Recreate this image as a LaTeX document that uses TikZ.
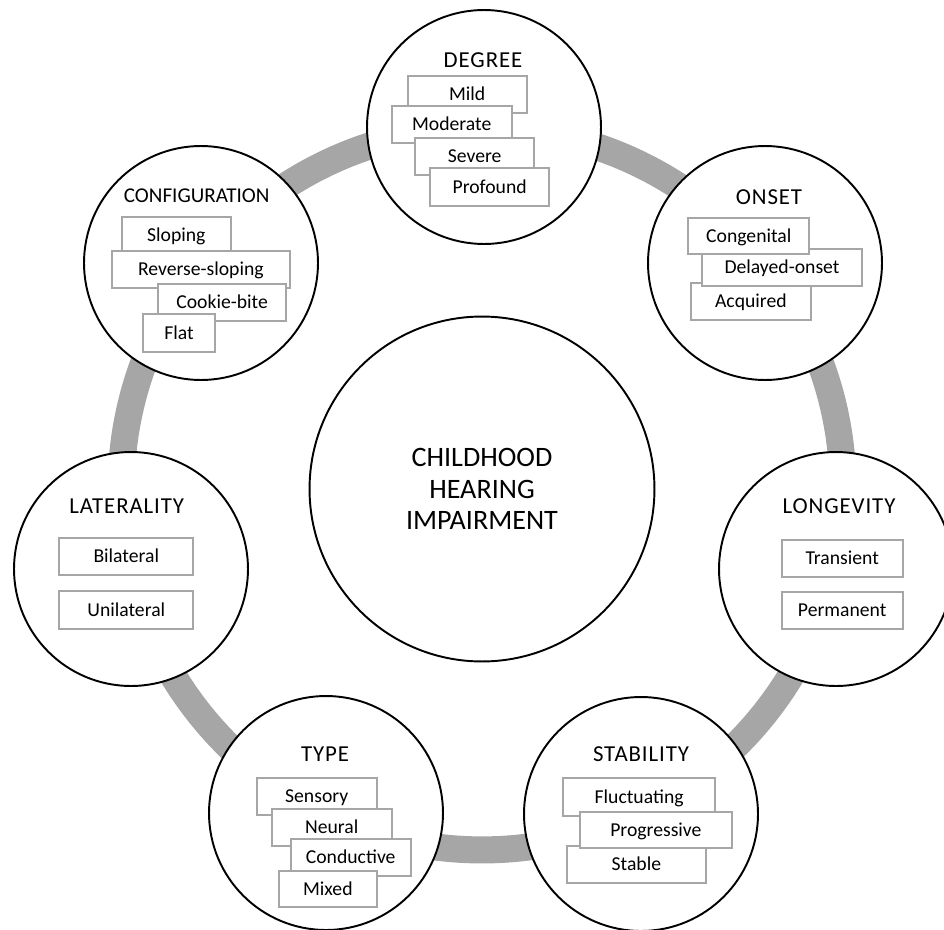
\documentclass[tikz,border=0pt]{standalone}
\usepackage{fontspec}
\setmainfont{Carlito}
\usepackage{tikz}
\usetikzlibrary{positioning}
\definecolor{ringgray}{HTML}{A6A6A6}
\definecolor{boxgray}{HTML}{A6A6A6}

\begin{document}
\begin{tikzpicture}[x=0.02cm, y=-0.02cm,
  facet/.style={circle, draw=black, line width=1.1pt, fill=white, minimum size=4.68cm, inner sep=0pt},
  hub/.style={circle, draw=black, line width=1.1pt, fill=white, minimum size=6.9cm, inner sep=0pt,
    align=center, font=\fontsize{16}{18}\selectfont},
  ring/.style={draw=ringgray, line width=15.4pt},
  title/.style={font=\fontsize{13}{15}\selectfont\addfontfeature{LetterSpace=4}, inner sep=0pt,
    text height=8.2pt, text depth=0pt},
  smalltitle/.style={title, font=\fontsize{12}{14}\selectfont, text height=7.6pt},
  item/.style={draw=boxgray, line width=1.1pt, fill=white},
  itemtext/.style={font=\fontsize{11.2}{13}\selectfont, inner sep=0pt, text height=7.1pt, text depth=0pt}]
  \useasboundingbox (0,0) rectangle (944,930);
  \clip (0,0) rectangle (944,930);

  % Hub and ring
  \node[hub] (hub) at (482,489) {CHILDHOOD\\HEARING\\IMPAIRMENT};
  \draw[ring] (hub.center) circle[radius=7.22cm];

  % Facet circles
  \node[facet] (degree) at (484,127) {};
  \node[facet] (onset) at (765,263) {};
  \node[facet] (longevity) at (836,569) {};
  \node[facet] (stability) at (641,814) {};
  \node[facet] (type) at (326,813) {};
  \node[facet] (laterality) at (131,569) {};
  \node[facet] (configuration) at (201,263) {};

  % Degree
  \node[title] (degreetitle) at (483,60) {DEGREE};
  \draw[item] (407.7,76) rectangle (526.7,112.7) node[midway, itemtext] (mild) {Mild};
  \draw[item] (391.7,106) rectangle (511.7,142.7) node[midway, itemtext] (moderate) {Moderate};
  \draw[item] (415,138.3) rectangle (534.3,175) node[midway, itemtext] (severe) {Severe};
  \draw[item] (430,168.3) rectangle (549.3,205.7) node[midway, itemtext] (profound) {Profound};

  % Onset
  \node[title] (onsettitle) at (769,197) {ONSET};
  \draw[item] (691,282.7) rectangle (810.7,320) node[midway, itemtext] (acquired) {Acquired};
  \draw[item] (701.7,249) rectangle (862.3,286) node[midway, itemtext] (delayed) {Delayed-onset};
  \draw[item] (688.3,217.7) rectangle (809.3,254.3) node[midway, itemtext] (congenital) {Congenital};

  % Longevity
  \node[title] (longevitytitle) at (839,506.7) {LONGEVITY};
  \draw[item] (781.7,540) rectangle (902.7,577.3) node[midway, itemtext] (transient) {Transient};
  \draw[item] (781.7,591.7) rectangle (902.7,629) node[midway, itemtext] (permanent) {Permanent};

  % Stability
  \node[title] (stabilitytitle) at (641,754.3) {STABILITY};
  \draw[item] (563.3,778.3) rectangle (715,815.7) node[midway, itemtext] (fluctuating) {Fluctuating};
  \draw[item] (566.7,846) rectangle (706,883.3) node[midway, itemtext] (stable) {Stable};
  \draw[item] (580,811.7) rectangle (731.7,848.3) node[midway, itemtext] (progressive) {Progressive};

  % Type
  \node[title] (typetitle) at (325,754) {TYPE};
  \draw[item] (256.7,778.3) rectangle (376.7,815) node[midway, itemtext] (sensory) {Sensory};
  \draw[item] (271.7,809) rectangle (391.7,846) node[midway, itemtext] (neural) {Neural};
  \draw[item] (290.7,839) rectangle (410.7,876) node[midway, itemtext] (conductive) {Conductive};
  \draw[item] (279,870.7) rectangle (376.7,907.3) node[midway, itemtext] (mixed) {Mixed};

  % Laterality
  \node[title] (lateralitytitle) at (126.7,506) {LATERALITY};
  \draw[item] (59.3,538.3) rectangle (193.3,575) node[midway, itemtext] (bilateral) {Bilateral};
  \draw[item] (59.3,591) rectangle (193.3,629) node[midway, itemtext] (unilateral) {Unilateral};

  % Configuration
  \node[smalltitle] (configurationtitle) at (196.7,196) {CONFIGURATION};
  \draw[item] (121.7,217.3) rectangle (231,254) node[midway, itemtext] (sloping) {Sloping};
  \draw[item] (111.7,251) rectangle (290,288.3) node[midway, itemtext] (revsloping) {Reverse-sloping};
  \draw[item] (158.3,284.3) rectangle (286,321) node[midway, itemtext] (cookiebite) {Cookie-bite};
  \draw[item] (143.3,314.3) rectangle (215,351.7) node[midway, itemtext] (flat) {Flat};
\end{tikzpicture}
\end{document}
